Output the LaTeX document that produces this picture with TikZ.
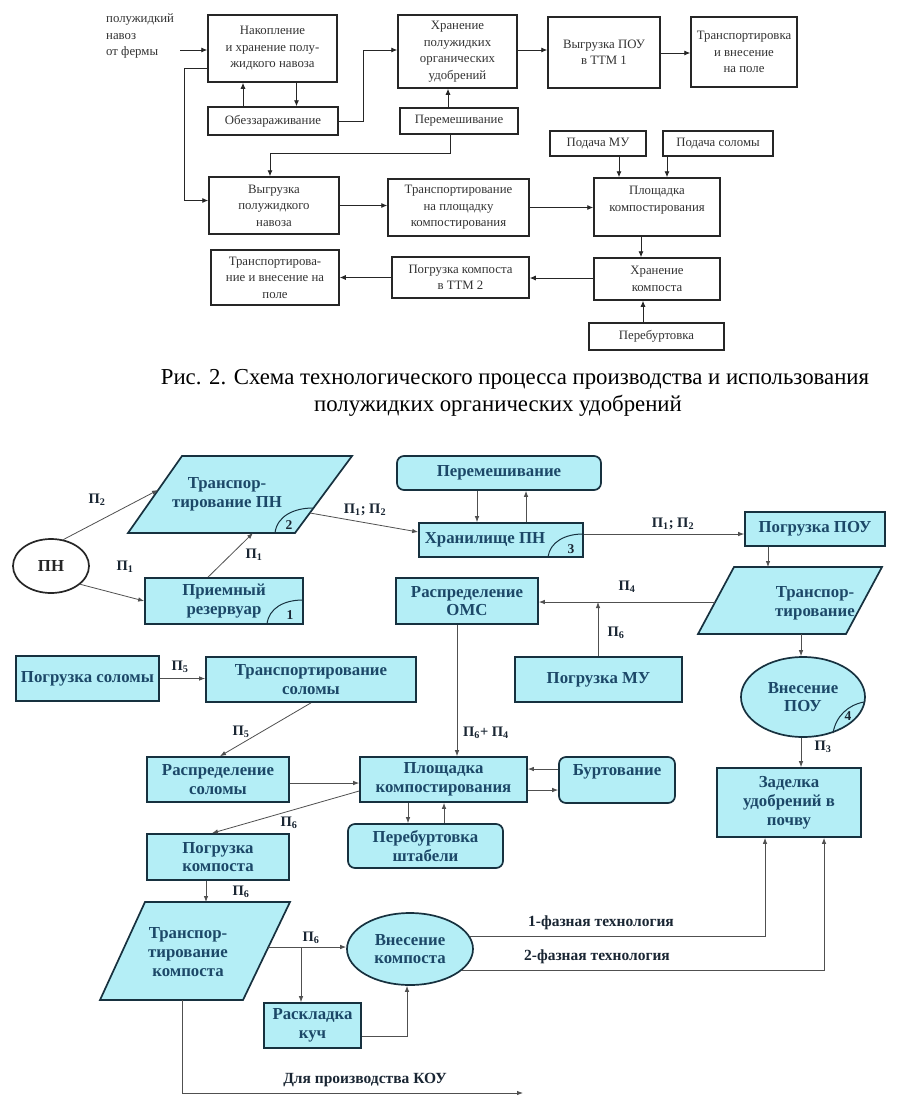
\documentclass[tikz,border=0pt]{standalone}
\usepackage{fontspec}
\setmainfont{Liberation Serif}
\usetikzlibrary{arrows.meta,shapes.geometric}
\definecolor{fillc}{HTML}{B4EEF6}
\definecolor{bordc}{HTML}{17313F}
\definecolor{txtc}{HTML}{1C4868}
\definecolor{linec}{HTML}{505050}
\definecolor{labc}{HTML}{1A2633}
\tikzset{
 tbox/.style={draw=black!85, line width=1.5pt, fill=white, align=center, inner sep=0pt, font=\fontsize{12.8}{16.5}\selectfont, text=black!80},
 ttxt/.style={align=center, inner sep=0pt, font=\fontsize{12.8}{16.5}\selectfont, text=black!80},
 tarr/.style={draw=black!85, line width=0.9pt, -{Latex[length=6pt,width=5pt]}},
 bbox/.style={draw=bordc, line width=1.7pt, fill=fillc, align=center, inner sep=0pt, text=txtc, font=\bfseries\fontsize{16.8}{18.8}\selectfont},
 rbox/.style={bbox, rounded corners=7pt},
 btxt/.style={align=center, inner sep=0pt, text=txtc, font=\bfseries\fontsize{16.8}{18.8}\selectfont},
 barr/.style={draw=linec, line width=0.8pt, -{Latex[length=6pt,width=4.5pt]}},
 lab/.style={text=labc, font=\bfseries\fontsize{14.5}{16}\selectfont, inner sep=0pt},
 labw/.style={text=labc, font=\bfseries\fontsize{15.5}{17}\selectfont, inner sep=0pt},
 arcl/.style={draw=bordc, line width=1pt},
 numl/.style={text=labc, font=\bfseries\fontsize{13.5}{14}\selectfont, inner sep=0pt},
}
\begin{document}
\begin{tikzpicture}[x=1pt,y=-1pt]
\useasboundingbox (0,0) rectangle (914,1106);
\fill[white] (0,0) rectangle (914,1106);

% ================= TOP DIAGRAM =================
\node[ttxt, align=left, anchor=west] (farm) at (106,36) {полужидкий\\навоз\\от фермы};
\coordinate (farmA) at (180,50);
\node[tbox, minimum width=129pt, minimum height=67pt] (nak) at (272.5,48.5) {Накопление\\и хранение полу-\\жидкого навоза};
\node[tbox, minimum width=130pt, minimum height=28pt] (obez) at (273,121) {Обеззараживание};
\node[tbox, minimum width=119pt, minimum height=73pt] (hran) at (457.5,51.5) {Хранение\\полужидких\\органических\\удобрений};
\node[tbox, minimum width=118pt, minimum height=26pt] (perem) at (459,121) {Перемешивание};
\node[tbox, minimum width=112pt, minimum height=71pt] (vyg1) at (604,52.5) {Выгрузка ПОУ\\в ТТМ 1};
\node[tbox, minimum width=106pt, minimum height=70pt] (trvn) at (744,52) {Транспортировка\\и внесение\\на поле};
\node[tbox, minimum width=96pt, minimum height=25pt] (pmu) at (598,143.5) {Подача МУ};
\node[tbox, minimum width=110pt, minimum height=25pt] (psol) at (718,143.5) {Подача соломы};
\node[tbox, minimum width=126pt, minimum height=58pt] (plk) at (657,207) {};
\node[ttxt] (plkt) at (657,200) {Площадка\\компостирования};
\node[tbox, minimum width=126pt, minimum height=42pt] (hrk) at (657,279) {Хранение\\компоста};
\node[tbox, minimum width=135pt, minimum height=27pt] (pereb) at (656.5,336.5) {Перебуртовка};
\node[tbox, minimum width=130pt, minimum height=57pt] (vygn) at (274,205.5) {Выгрузка\\полужидкого\\навоза};
\node[tbox, minimum width=141pt, minimum height=57pt] (trpl) at (458.5,207.5) {Транспортирование\\на площадку\\компостирования};
\node[tbox, minimum width=128pt, minimum height=55pt] (trvn2) at (275,277.5) {Транспортирова-\\ние и внесение на\\поле};
\node[tbox, minimum width=137pt, minimum height=41pt] (pogk) at (460.5,277.5) {Погрузка компоста\\в ТТМ 2};

\draw[tarr] (farmA) -- (farmA -| nak.west);
\draw[tarr] ([xshift=-30pt]obez.north) -- ([xshift=-30pt]obez.north |- nak.south);
\draw[tarr] ([xshift=24pt]nak.south) -- ([xshift=24pt]nak.south |- obez.north);
\draw[tarr] ([yshift=-20pt]nak.west) -- ++(-23,0) |- ([yshift=5pt]vygn.west);
\draw[tarr] (obez.east) -- ++(25,0) |- ([yshift=1.5pt]hran.west);
\draw[tarr] ([xshift=-11pt]perem.north) -- ([xshift=-11pt]perem.north |- hran.south);
\draw[tarr] ([xshift=-9pt]perem.south) -- ++(0,19) -| ([xshift=-4pt]vygn.north);
\draw[tarr] ([yshift=1.5pt]hran.east) -- ([yshift=1.5pt]hran.east -| vyg1.west);
\draw[tarr] ([yshift=-0.5pt]vyg1.east) -- ([yshift=-0.5pt]vyg1.east -| trvn.west);
\draw[tarr] ([xshift=21pt]pmu.south) -- ([xshift=21pt]pmu.south |- plk.north);
\draw[tarr] ([xshift=-51pt]psol.south) -- ([xshift=-51pt]psol.south |- plk.north);
\draw[tarr] (vygn.east) -- (vygn.east -| trpl.west);
\draw[tarr] (trpl.east) -- (trpl.east -| plk.west);
\draw[tarr] ([xshift=-16pt]plk.south) -- ([xshift=-16pt]plk.south |- hrk.north);
\draw[tarr] ([xshift=-13.5pt]pereb.north) -- ([xshift=-13.5pt]pereb.north |- hrk.south);
\draw[tarr] ([yshift=1pt]hrk.west) -- ([yshift=1pt]hrk.west -| pogk.east);
\draw[tarr] (pogk.west) -- (pogk.west -| trvn2.east);

% caption
\node[inner sep=0pt, font=\fontsize{22.8}{25}\selectfont] (cap1) at (515,379) {Рис. 2. Схема технологического процесса производства и использования};
\node[inner sep=0pt, font=\fontsize{22.8}{25}\selectfont] (cap2) at (498,406) {полужидких органических удобрений};

% ================= BOTTOM DIAGRAM =================
\node[ellipse, draw=black!85, line width=1.7pt, fill=white, minimum width=76pt, minimum height=54pt, inner sep=0pt, font=\bfseries\fontsize{16.8}{18}\selectfont, text=black!85] (pn) at (51,566) {ПН};

% parallelogram: transport PN
\draw[draw=bordc, line width=1.7pt, fill=fillc] (128,533) -- (295,533) -- (352,456) -- (182,456) -- cycle;
\node[btxt] (trPN) at (227,494) {Транспор-\\тирование ПН};
\draw[arcl] (275,533) .. controls (277,516) and (294,508) .. (313,508);
\node[numl] (n2) at (289,525) {2};
\coordinate (trPNl) at (158,490);
\coordinate (trPNb) at (253,533);
\coordinate (trPNr) at (310,513);

\node[bbox, minimum width=158pt, minimum height=46pt] (priem) at (224,601) {Приемный\\резервуар};
\draw[arcl] (267,624) .. controls (269,608) and (284,600) .. (303,600);
\node[numl] (n1) at (290,615) {1};

\node[rbox, minimum width=204pt, minimum height=34pt] (perem2) at (499,473) {Перемешивание};
\node[bbox, minimum width=164pt, minimum height=34pt] (hranPN) at (501,540) {};
\node[btxt] (hranPNt) at (485,540) {Хранилище ПН};
\draw[arcl] (548,557) .. controls (550,542) and (565,534) .. (583,534);
\node[numl] (n3) at (571,549) {3};

\node[bbox, minimum width=140pt, minimum height=34pt] (pogPOU) at (815,529) {Погрузка ПОУ};

% parallelogram: transport right
\draw[draw=bordc, line width=1.7pt, fill=fillc] (734,567) -- (882,567) -- (846,634) -- (698,634) -- cycle;
\node[btxt] (trR) at (815,603) {Транспор-\\тирование};
\coordinate (trRt) at (768,567);
\coordinate (trRl) at (715,602);
\coordinate (trRb) at (801,634);

\node[bbox, minimum width=142pt, minimum height=46pt] (raspOMS) at (467,601) {Распределение\\ОМС};
\node[bbox, minimum width=167pt, minimum height=45pt] (pogMU) at (598.5,679.5) {Погрузка МУ};

\node[ellipse, draw=bordc, line width=1.7pt, fill=fillc, minimum width=124pt, minimum height=80pt, inner sep=0pt, align=center, text=txtc, font=\bfseries\fontsize{16.8}{18.8}\selectfont] (vnPOU) at (803,697) {Внесение\\ПОУ};
\draw[arcl] (833,733) .. controls (836,716) and (848,705) .. (864,702);
\node[numl] (n4) at (848,716) {4};

\node[bbox, minimum width=143pt, minimum height=45pt] (pogSol) at (87.5,678.5) {Погрузка соломы};
\node[bbox, minimum width=210pt, minimum height=45pt] (trSol) at (311,679.5) {Транспортирование\\соломы};
\node[bbox, minimum width=142pt, minimum height=45pt] (raspSol) at (218,779.5) {Распределение\\соломы};
\node[bbox, minimum width=167pt, minimum height=45pt] (plosh) at (443.5,779.5) {Площадка\\компостирования};
\node[rbox, minimum width=116pt, minimum height=46pt] (burt) at (617,780) {};
\node[btxt] (burtt) at (617,772) {Буртование};
\node[rbox, minimum width=155pt, minimum height=44pt] (pereb2) at (425.5,846) {Перебуртовка\\штабели};
\node[bbox, minimum width=144pt, minimum height=69pt] (zad) at (789,802.5) {Заделка\\удобрений в\\почву};
\node[bbox, minimum width=142pt, minimum height=46pt] (pogK) at (218,857) {Погрузка\\компоста};

% parallelogram: transport compost
\draw[draw=bordc, line width=1.7pt, fill=fillc] (145,902) -- (290,902) -- (243,1000) -- (100,1000) -- cycle;
\node[btxt] (trK) at (188,952) {Транспор-\\тирование\\компоста};
\coordinate (trKt) at (206,902);
\coordinate (trKr) at (268,947);
\coordinate (trKb) at (182,1000);
\coordinate (kouEnd) at (523,1093);

\node[ellipse, draw=bordc, line width=1.7pt, fill=fillc, minimum width=126pt, minimum height=72pt, inner sep=0pt, align=center, text=txtc, font=\bfseries\fontsize{16.8}{18.8}\selectfont] (vnK) at (410,949) {Внесение\\компоста};
\node[bbox, minimum width=97pt, minimum height=45pt] (rask) at (312.5,1025.5) {Раскладка\\куч};

% connectors bottom
\draw[barr] (pn.65) -- (trPNl);
\draw[barr] (pn.-32) -- (priem.west);
\draw[barr] ([xshift=-16pt]priem.north) -- (trPNb);
\draw[barr] (trPNr) -- ([yshift=8pt]hranPN.west);
\draw[barr] ([xshift=-22pt]perem2.south) -- ([xshift=-22pt]perem2.south |- hranPN.north);
\draw[barr] ([xshift=25pt]hranPN.north) -- ([xshift=25pt]hranPN.north |- perem2.south);
\draw[barr] ([yshift=6pt]hranPN.east) -- ([yshift=6pt]hranPN.east -| pogPOU.west);
\draw[barr] ([xshift=-47pt]pogPOU.south) -- (trRt);
\draw[barr] (trRl) -- (trRl -| raspOMS.east);
\draw[barr] ([xshift=-0.5pt]pogMU.north) -- ([xshift=-0.5pt]pogMU.north |- trRl);
\draw[barr] ([xshift=-10pt]raspOMS.south) -- ([xshift=-10pt]raspOMS.south |- plosh.north);
\draw[barr] (trRb) -- (trRb |- vnPOU.north);
\draw[barr] ([xshift=-2pt]vnPOU.south) -- ([xshift=-2pt]vnPOU.south |- zad.north);
\draw[barr] ([yshift=11pt]burt.west) -- ([yshift=11pt]burt.west -| plosh.east);
\draw[barr] ([yshift=-10.5pt]plosh.east) -- ([yshift=-10.5pt]plosh.east -| burt.west);
\draw[barr] ([xshift=-35.5pt]plosh.south) -- ([xshift=-35.5pt]plosh.south |- pereb2.north);
\draw[barr] ([xshift=18.5pt]pereb2.north) -- ([xshift=18.5pt]pereb2.north |- plosh.south);
\draw[barr] (pogSol.east) -- (pogSol.east -| trSol.west);
\draw[barr] (trSol.south) -- ([xshift=2pt]raspSol.north);
\draw[barr] ([yshift=-3.5pt]raspSol.east) -- ([yshift=-3.5pt]raspSol.east -| plosh.west);
\draw[barr] ([yshift=-11.5pt]plosh.west) -- ([xshift=-6pt]pogK.north);
\draw[barr] ([xshift=-12pt]pogK.south) -- (trKt);
\draw[barr] (trKr) -- (trKr -| vnK.west);
\draw[barr] ([xshift=-11.5pt]rask.north |- trKr) -- ([xshift=-11.5pt]rask.north);
\draw[barr] ([yshift=-10.5pt]rask.east) -| ([xshift=-3pt]vnK.south);
\draw[barr] (trKb) |- (kouEnd);
\draw[barr] (vnK.12) -| ([xshift=-24pt]zad.south);
\draw[barr] (vnK.-22) -| ([xshift=35pt]zad.south);

% labels
\node[lab] (l1) at (97,500) {П\textsubscript{2}};
\node[lab] (l2) at (125,567) {П\textsubscript{1}};
\node[lab] (l3) at (254,555) {П\textsubscript{1}};
\node[lab] (l4) at (365,510) {П\textsubscript{1}; П\textsubscript{2}};
\node[lab] (l5) at (673,524) {П\textsubscript{1}; П\textsubscript{2}};
\node[lab] (l6) at (627,587) {П\textsubscript{4}};
\node[lab] (l7) at (616,633) {П\textsubscript{6}};
\node[lab] (l8) at (486,733) {П\textsubscript{6}+ П\textsubscript{4}};
\node[lab] (l9) at (180,667) {П\textsubscript{5}};
\node[lab] (l10) at (241,732) {П\textsubscript{5}};
\node[lab] (l11) at (289,823) {П\textsubscript{6}};
\node[lab] (l12) at (241,892) {П\textsubscript{6}};
\node[lab] (l13) at (311,938) {П\textsubscript{6}};
\node[lab] (l14) at (823,747) {П\textsubscript{3}};
\node[labw] (l15) at (601,923) {1-фазная технология};
\node[labw] (l16) at (597,957) {2-фазная технология};
\node[labw] (l17) at (365,1080) {Для производства КОУ};
\end{tikzpicture}
\end{document}
